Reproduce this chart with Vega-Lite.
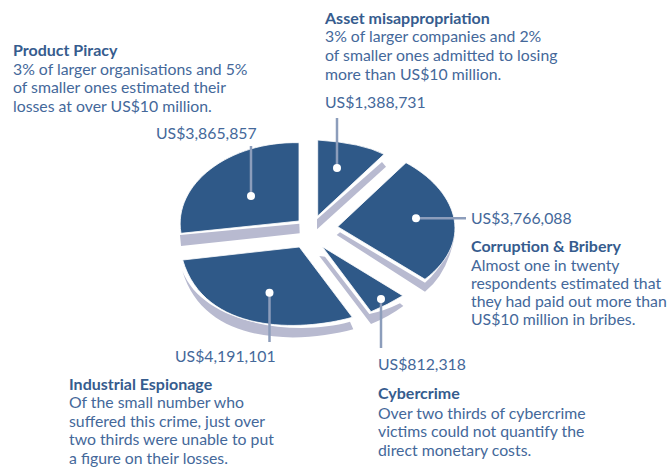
{"$schema":"https://vega.github.io/schema/vega-lite/v6.json","width":669,"height":468,"padding":0,"autosize":{"type":"fit","contains":"padding"},"background":"white","config":{"view":{"stroke":null},"text":{"font":"Lato"}},
"datasets":{
"slices":[{"slice":"Asset misappropriation","value":1388731},{"slice":"Corruption & Bribery","value":3766088},{"slice":"Cybercrime","value":812318},{"slice":"Industrial Espionage","value":4191101},{"slice":"Product Piracy","value":3865857}],
"leaders":[{"slice":"Asset misappropriation","ax":337,"ay":118,"bx":337,"by":168},{"slice":"Corruption & Bribery","ax":466,"ay":218.3,"bx":416,"by":218.3},{"slice":"Cybercrime","ax":381,"ay":348,"bx":381,"by":299},{"slice":"Industrial Espionage","ax":269.5,"ay":342,"bx":269.5,"by":292.7},{"slice":"Product Piracy","ax":251,"ay":146,"bx":251,"by":196}],
"amounts":[{"t":"US$1,388,731","x":325,"y":108},{"t":"US$3,766,088","x":471,"y":224},{"t":"US$812,318","x":378,"y":370},{"t":"US$4,191,101","x":175,"y":362},{"t":"US$3,865,857","x":156,"y":139}],
"heads":[{"t":"Asset misappropriation","x":325,"y":24},{"t":"Corruption & Bribery","x":471,"y":252},{"t":"Cybercrime","x":378,"y":399},{"t":"Industrial Espionage","x":69,"y":390},{"t":"Product Piracy","x":13,"y":56}],
"notes":[{"t":"3% of larger companies and 2%","x":325,"y":42},{"t":"of smaller ones admitted to losing","x":325,"y":61},{"t":"more than US$10 million.","x":325,"y":80},
{"t":"Almost one in twenty","x":471,"y":271},{"t":"respondents estimated that","x":471,"y":289},{"t":"they had paid out more than","x":471,"y":307},{"t":"US$10 million in bribes.","x":471,"y":325},
{"t":"Over two thirds of cybercrime","x":378,"y":419},{"t":"victims could not quantify the","x":378,"y":437},{"t":"direct monetary costs.","x":378,"y":456},
{"t":"Of the small number who","x":69,"y":408},{"t":"suffered this crime, just over","x":69,"y":427},{"t":"two thirds were unable to put","x":69,"y":445},{"t":"a figure on their losses.","x":69,"y":464},
{"t":"3% of larger organisations and 5%","x":13,"y":75},{"t":"of smaller ones estimated their","x":13,"y":93},{"t":"losses at over US$10 million.","x":13,"y":112}]
},
"encoding":{},
"layer":[
{"data":{"name":"slices"},"mark":{"type":"point","filled":true,"size":4,"opacity":1,"color":"#b8bad0"},"encoding":{"shape":{"field":"slice","type":"nominal","legend":null,"scale":{"domain":["Asset misappropriation","Corruption & Bribery","Cybercrime","Industrial Espionage","Product Piracy"],"range":[
"M-17.5,-14.7L47.5,-72L51.5,-67.3L-17.5,-4.7Z",
"M2.2,1L5.5,-1.7L90.5,48.7Q110,32 120.5,1Q113,40 90.5,57.7Z",
"M-15.2,22L-9.5,22.7L34.8,80Q50,77 65.5,69.3L68.8,72Q54,83 36.5,90Z",
"M15.5,87.7L18.8,95.3C-35,110 -130,112 -152.2,36.7C-132,90 -40,103.5 15.5,87.7Z",
"M-154.5,1L-35.2,-10.3L-34.8,-0.7L-153.5,12Z"]}}}},
{"data":{"name":"slices"},"mark":{"type":"point","filled":true,"size":4,"opacity":1,"color":"#2f5988","stroke":"white","strokeWidth":0.8,"strokeOpacity":1},"encoding":{"shape":{"field":"slice","type":"nominal","legend":null,"scale":{"domain":["Asset misappropriation","Corruption & Bribery","Cybercrime","Industrial Espionage","Product Piracy"],"range":[
"M-16.8,-18L-16.8,-94Q28,-91 49.5,-79.7Z",
"M3.2,-7.3L71.5,-71.3C120,-45 143,5 90.5,45.3Z",
"M-12.2,12.7L68.2,61.7Q53,71 36.5,77.7Z",
"M-151.8,26L-35.2,13L17.8,83.3C-35,98 -130,100 -151.8,26Z",
"M-35.5,-91.3L-35.5,-13L-153.5,-0.7C-162,-50 -105,-93 -35.5,-91.3Z"]}}}},
{"data":{"name":"leaders"},"mark":{"type":"rule","color":"#8c9dbb","strokeWidth":2.5},"encoding":{"x":{"field":"ax","type":"quantitative","axis":null,"scale":{"domain":[0,669],"nice":false,"zero":false}},"y":{"field":"ay","type":"quantitative","axis":null,"scale":{"domain":[0,468],"reverse":true,"nice":false,"zero":false}},"x2":{"field":"bx"},"y2":{"field":"by"}}},
{"data":{"name":"leaders"},"mark":{"type":"circle","color":"white","size":64,"opacity":1},"encoding":{"x":{"field":"bx","type":"quantitative","axis":null},"y":{"field":"by","type":"quantitative","axis":null}}},
{"data":{"name":"amounts"},"mark":{"type":"text","align":"left","baseline":"alphabetic","fontSize":15.8,"color":"#44689a"},"encoding":{"x":{"field":"x","type":"quantitative","axis":null},"y":{"field":"y","type":"quantitative","axis":null},"text":{"field":"t"}}},
{"data":{"name":"heads"},"mark":{"type":"text","align":"left","baseline":"alphabetic","fontSize":16,"fontWeight":"bold","color":"#365c8e"},"encoding":{"x":{"field":"x","type":"quantitative","axis":null},"y":{"field":"y","type":"quantitative","axis":null},"text":{"field":"t"}}},
{"data":{"name":"notes"},"mark":{"type":"text","align":"left","baseline":"alphabetic","fontSize":15.8,"color":"#44689a"},"encoding":{"x":{"field":"x","type":"quantitative","axis":null},"y":{"field":"y","type":"quantitative","axis":null},"text":{"field":"t"}}}
],
"resolve":{"scale":{"shape":"independent"}}}
